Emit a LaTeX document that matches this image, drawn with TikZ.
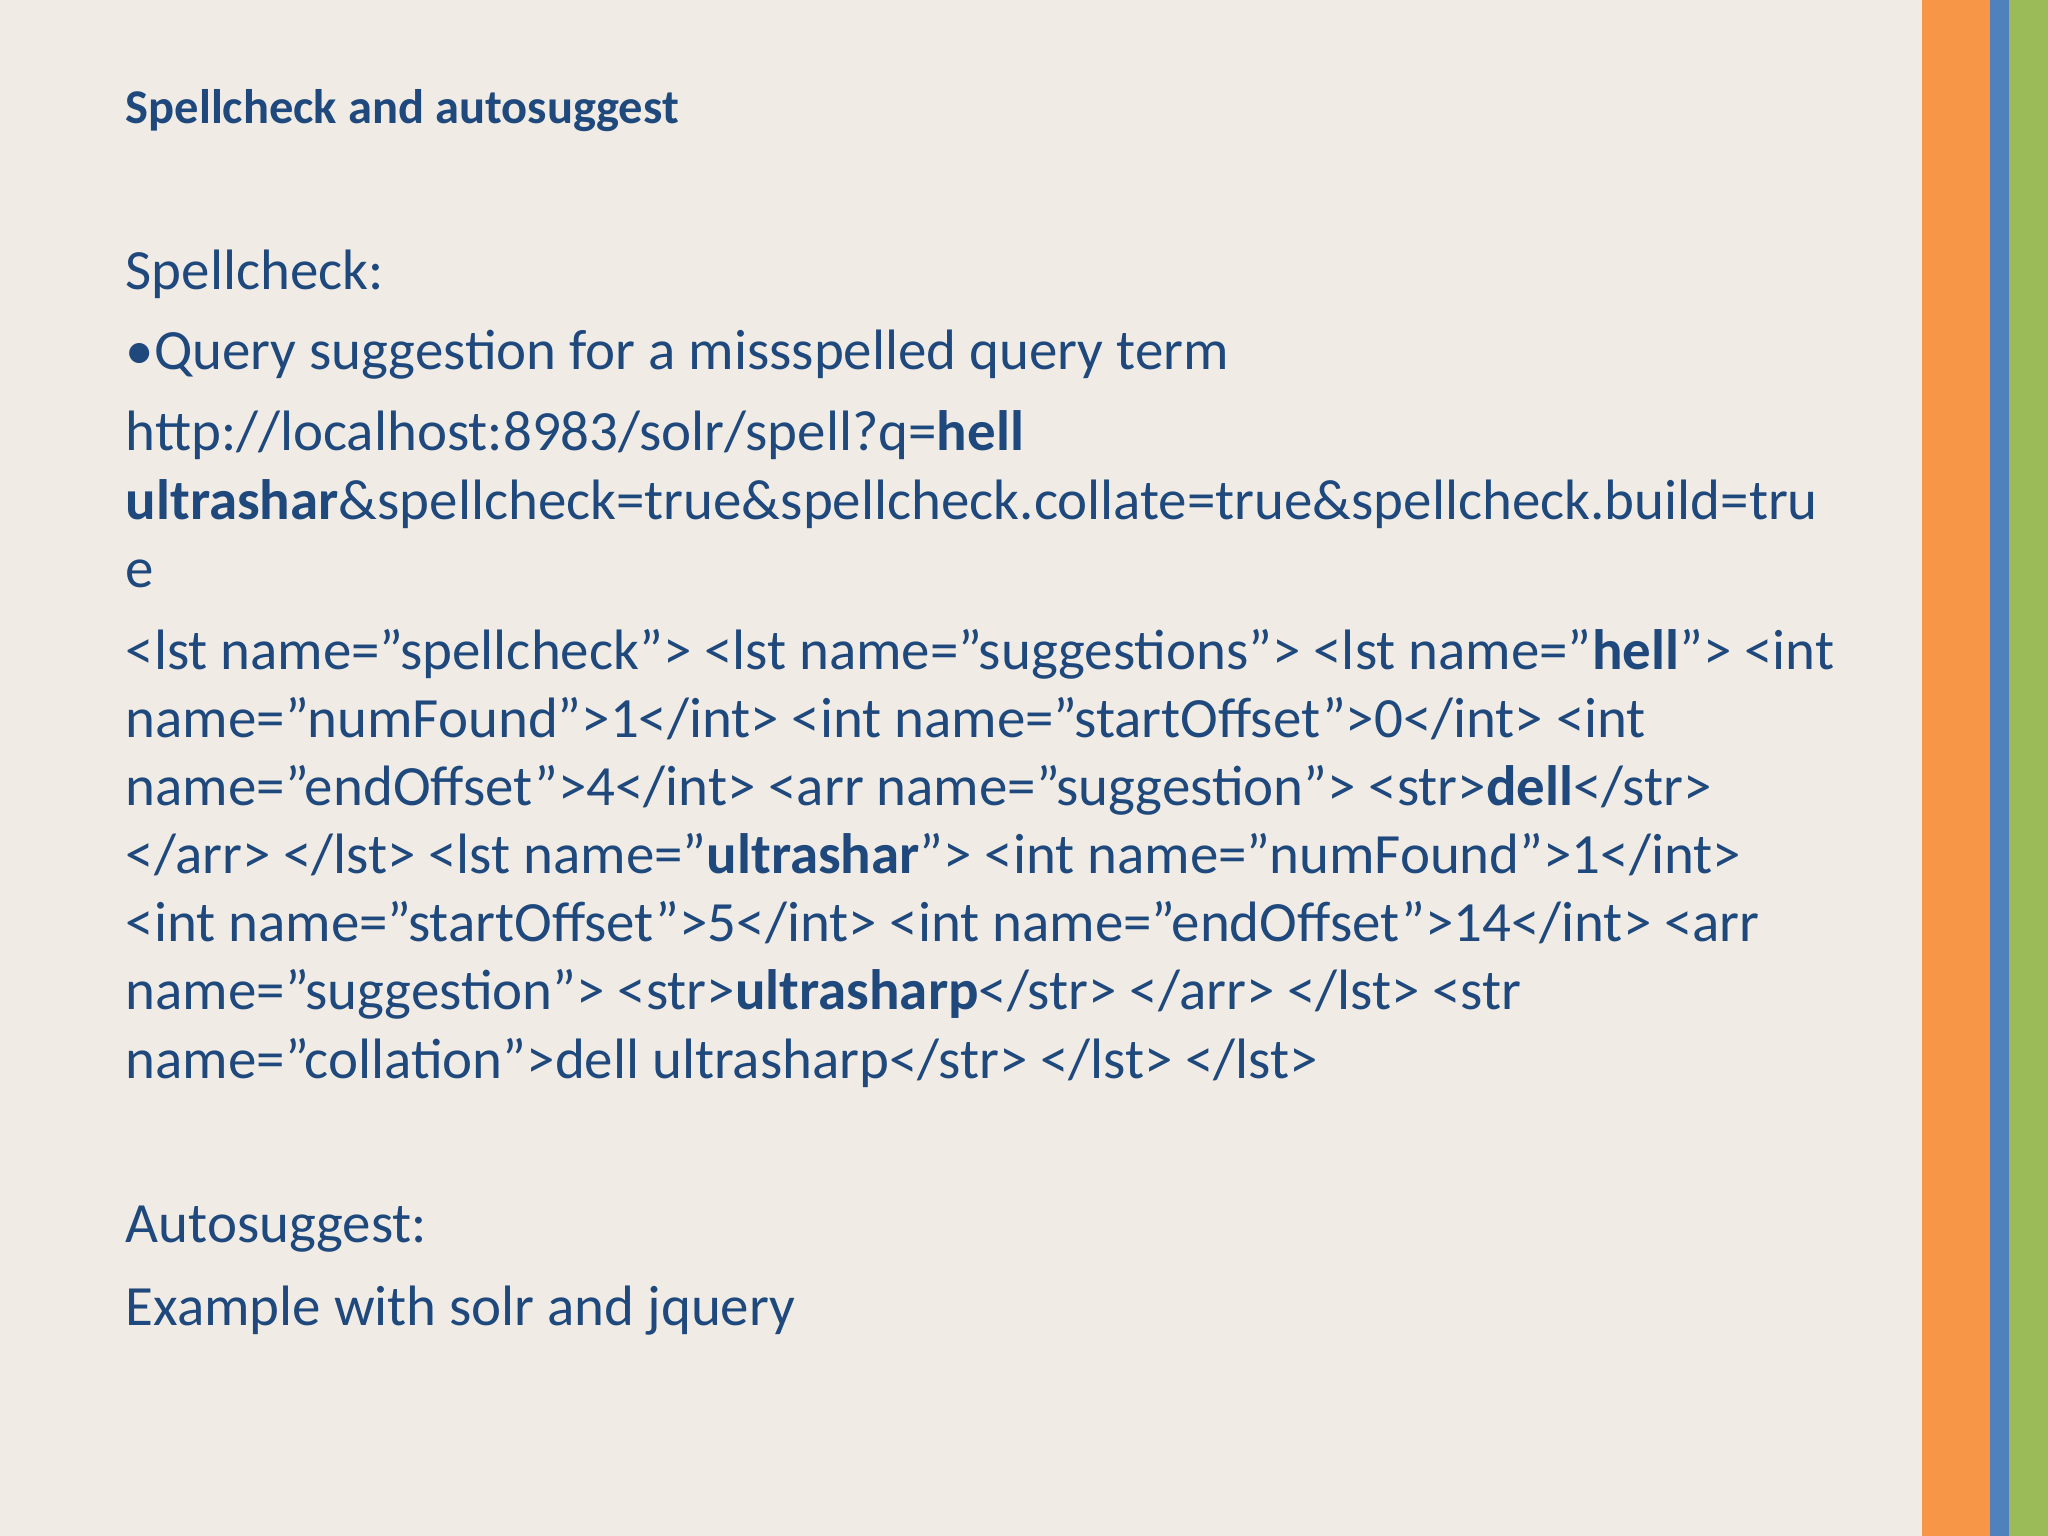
\documentclass[tikz,border=0pt]{standalone}
\usepackage{fontspec}
\setmainfont{Carlito}
\definecolor{bg}{HTML}{F0ECE5}
\definecolor{tx}{HTML}{1F497D}
\definecolor{orng}{HTML}{F79646}
\definecolor{blu}{HTML}{4F81BD}
\definecolor{grn}{HTML}{9BBB59}
\begin{document}
\begin{tikzpicture}[x=1cm,y=1cm,
  ln/.style={anchor=base west,inner sep=0pt,text=tx,font=\fontsize{16.2pt}{19pt}\selectfont},
  ttl/.style={anchor=base west,inner sep=0pt,text=tx,font=\fontsize{13.8pt}{16pt}\selectfont\bfseries}]
\fill[bg] (0,0) rectangle (20.48,15.36);
\useasboundingbox (0,0) rectangle (20.48,15.36);
\fill[orng] (19.22,0) rectangle (19.90,15.36);
\fill[blu] (19.90,0) rectangle (20.09,15.36);
\fill[grn] (20.09,0) rectangle (20.48,15.36);
\node[ttl] (t) at (1.25,14.12) {Spellcheck and autosuggest};
\node[ln] (l1) at (1.25,12.46) {Spellcheck:};
\node[ln] (l2) at (1.25,11.66) {•Query suggestion for a missspelled query term};
\node[ln] (l3) at (1.25,10.85) {http://localhost:8983/solr/spell?q=\textbf{hell}};
\node[ln] (l4) at (1.25,10.16) {\textbf{ultrashar}\&spellcheck=true\&spellcheck.collate=true\&spellcheck.build=tru};
\node[ln] (l5) at (1.25,9.48) {e};
\node[ln] (l6) at (1.25,8.66) {<lst name="spellcheck"> <lst name="suggestions"> <lst name="\textbf{hell}"> <int};
\node[ln] (l7) at (1.25,7.98) {name="numFound">1</int> <int name="startOffset">0</int> <int};
\node[ln] (l8) at (1.25,7.30) {name="endOffset">4</int> <arr name="suggestion"> <str>\textbf{dell}</str>};
\node[ln] (l9) at (1.25,6.62) {</arr> </lst> <lst name="\textbf{ultrashar}"> <int name="numFound">1</int>};
\node[ln] (l10) at (1.25,5.94) {<int name="startOffset">5</int> <int name="endOffset">14</int> <arr};
\node[ln] (l11) at (1.25,5.26) {name="suggestion"> <str>\textbf{ultrasharp}</str> </arr> </lst> <str};
\node[ln] (l12) at (1.25,4.57) {name="collation">dell ultrasharp</str> </lst> </lst>};
\node[ln] (l13) at (1.25,2.93) {Autosuggest:};
\node[ln] (l14) at (1.25,2.10) {Example with solr and jquery};
\end{tikzpicture}
\end{document}
